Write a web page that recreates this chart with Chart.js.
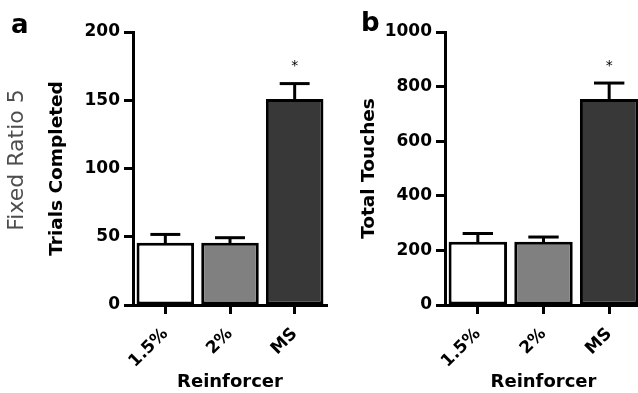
<!DOCTYPE html>
<html>
<head>
<meta charset="utf-8">
<script src="https://cdn.jsdelivr.net/npm/chart.js@4.4.1/dist/chart.umd.min.js"></script>
<style>
  html, body { margin: 0; padding: 0; background: #fff; overflow: hidden; width: 638px; height: 393px; }
  .wrap { position: absolute; top: 0; height: 393px; }
  #wa { left: 0; width: 330px; }
  #wb { left: 330px; width: 315px; }
  .lbl { position: absolute; font-family: "DejaVu Sans", sans-serif; font-weight: bold; color: #000; font-size: 26px; line-height: 26px; }
  #side { position: absolute; font-family: "DejaVu Sans", sans-serif; font-size: 22px; color: #4d4d4d; white-space: nowrap;
          left: 15px; top: 160px; transform: translate(-50%, -50%) rotate(-90deg); }
</style>
</head>
<body>
<div class="wrap" id="wa"><canvas id="ca" width="330" height="393"></canvas></div>
<div class="wrap" id="wb"><canvas id="cb" width="315" height="393"></canvas></div>
<div class="lbl" style="left:11px; top:11px;">a</div>
<div class="lbl" style="left:361px; top:9px;">b</div>
<div id="side">Fixed Ratio 5</div>
<script>
// ---- data ----
const categories = ['1.5%', '2%', 'MS'];
const trialsMean = [45.6, 45.6, 151];
const trialsErr = [6.1, 3.7, 11.2];
const touchesMean = [232, 232, 755];
const touchesErr = [30, 17, 58];
const significance = ['', '', '*'];
const trialsTicks = [0, 50, 100, 150, 200];
const touchesTicks = [0, 200, 400, 600, 800, 1000];
const barColors = ['#ffffff', '#808080', '#383838'];

const FONT = '"DejaVu Sans", sans-serif';

const errorBarPlugin = {
  id: 'errorBars',
  afterDatasetsDraw(chart, args, opts) {
    const ctx = chart.ctx;
    const meta = chart.getDatasetMeta(0);
    const ys = chart.scales.y;
    const errs = opts.errors;
    const vals = chart.data.datasets[0].data;
    ctx.save();
    ctx.strokeStyle = '#000';
    ctx.lineWidth = 3;
    ctx.lineCap = 'butt';
    meta.data.forEach((bar, i) => {
      const x = bar.x;
      const yTop = ys.getPixelForValue(vals[i]);
      const yCap = ys.getPixelForValue(vals[i] + errs[i]);
      const half = bar.width * 0.26;
      ctx.beginPath();
      ctx.moveTo(x, yTop + 2);
      ctx.lineTo(x, yCap);
      ctx.stroke();
      ctx.beginPath();
      ctx.moveTo(x - half, yCap);
      ctx.lineTo(x + half, yCap);
      ctx.stroke();
      if (opts.sig[i]) {
        ctx.fillStyle = '#000';
        ctx.font = '14px ' + FONT;
        ctx.textAlign = 'center';
        ctx.textBaseline = 'middle';
        ctx.fillText(opts.sig[i], x, yCap - 17);
      }
    });
    ctx.restore();
  }
};

function makeChart(id, means, errs, ticks, yTitle, padLeft, padRight) {
  const maxV = ticks[ticks.length - 1];
  const step = ticks[1] - ticks[0];
  return new Chart(document.getElementById(id), {
    type: 'bar',
    data: {
      labels: categories,
      datasets: [{
        data: means,
        backgroundColor: barColors,
        borderColor: '#000',
        borderWidth: 3,
        borderSkipped: false,
        barPercentage: 0.89,
        categoryPercentage: 1.0
      }]
    },
    options: {
      responsive: false,
      animation: false,
      events: [],
      layout: { padding: { top: 32, left: padLeft, right: padRight, bottom: 0 } },
      plugins: {
        legend: { display: false },
        tooltip: { enabled: false },
        errorBars: { errors: errs, sig: significance }
      },
      scales: {
        x: {
          offset: true,
          grid: { display: true, drawOnChartArea: false, offset: false, drawTicks: true, tickLength: 9, tickWidth: 3, tickColor: '#000', color: '#000' },
          border: { display: true, color: '#000', width: 3 },
          ticks: { color: '#000', font: { family: FONT, weight: 'bold', size: 17 }, minRotation: 45, maxRotation: 45, padding: 10 },
          title: { display: true, text: 'Reinforcer', color: '#000', font: { family: FONT, weight: 'bold', size: 18 }, padding: { top: 0, bottom: 0 } },
          afterFit(s) { s.height = 88; }
        },
        y: {
          min: 0, max: maxV,
          grid: { display: true, drawOnChartArea: false, drawTicks: true, tickLength: 9, tickWidth: 3, tickColor: '#000', color: '#000' },
          border: { display: true, color: '#000', width: 3 },
          ticks: { stepSize: step, color: '#000', font: { family: FONT, weight: 'bold', size: 17 }, padding: 4,
                   callback: v => String(v) },
          afterBuildTicks(s) { s.ticks = ticks.map(v => ({ value: v })); },
          title: { display: true, text: yTitle, color: '#000', font: { family: FONT, weight: 'bold', size: 18.5 }, padding: { top: 6, bottom: 0 } },
          afterFit(s) { s.width = 93; }
        }
      }
    },
    plugins: [errorBarPlugin]
  });
}

makeChart('ca', trialsMean, trialsErr, trialsTicks, 'Trials Completed', 40, 3);
makeChart('cb', touchesMean, touchesErr, touchesTicks, 'Total Touches', 22, 3);
</script>
</body>
</html>
